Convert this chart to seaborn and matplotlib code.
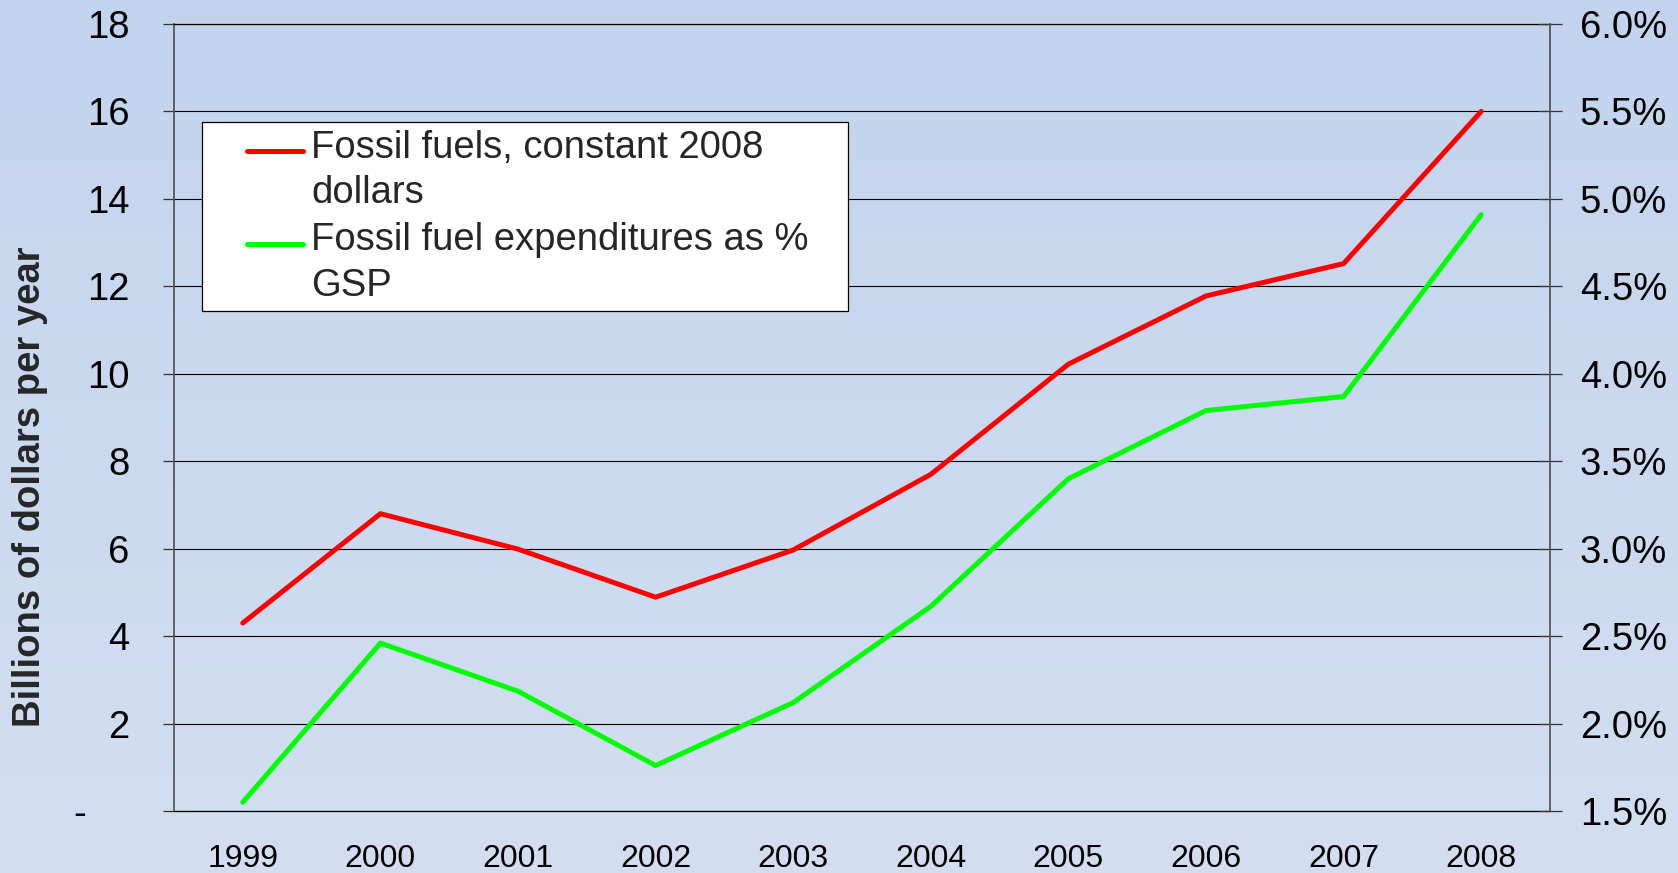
import matplotlib
matplotlib.use("Agg")
import numpy as np
import pandas as pd
import seaborn as sns
import matplotlib.pyplot as plt
from matplotlib.lines import Line2D
from matplotlib.legend_handler import HandlerLine2D
from matplotlib.ticker import FixedLocator

# ---------------- data ----------------
years = [1999, 2000, 2001, 2002, 2003, 2004, 2005, 2006, 2007, 2008]
fossil_fuels_billions = [4.30, 6.80, 5.99, 4.89, 5.97, 7.70, 10.22, 11.78, 12.52, 16.00]
fossil_pct_gsp = [1.55, 2.46, 2.185, 1.76, 2.12, 2.67, 3.40, 3.79, 3.87, 4.91]

left_ticks = [0, 2, 4, 6, 8, 10, 12, 14, 16, 18]
left_tick_labels = ["-    ", "2", "4", "6", "8", "10", "12", "14", "16", "18"]
right_ticks = [1.5, 2.0, 2.5, 3.0, 3.5, 4.0, 4.5, 5.0, 5.5, 6.0]
right_tick_labels = ["1.5%", "2.0%", "2.5%", "3.0%", "3.5%", "4.0%", "4.5%", "5.0%", "5.5%", "6.0%"]
year_labels = [str(y) for y in years]

series_names = ["Fossil fuels, constant 2008\ndollars",
                "Fossil fuel expenditures as %\nGSP"]
series_colors = ["#ff0000", "#00ff00"]
y_label = "Billions of dollars per year"

# ---------------- style ----------------
sns.set_style("white")
plt.rcParams["font.family"] = ["Liberation Sans", "DejaVu Sans"]

W, H = 1678, 873
fig = plt.figure(figsize=(W / 100, H / 100), dpi=100)

# gradient background
bg = fig.add_axes([0, 0, 1, 1], zorder=-10)
t = np.linspace(0, 1, 256)[:, None, None]
top_c = np.array([0.760, 0.833, 0.933])
bot_c = np.array([0.827, 0.872, 0.945])
grad = top_c * (1 - t) + bot_c * t
bg.imshow(grad, aspect="auto", extent=[0, 1, 0, 1])
bg.set_axis_off()

ax = fig.add_axes([174 / W, 1 - 811 / H, 1376 / W, 787 / H])
ax.set_facecolor("none")
ax2 = ax.twinx()

df = pd.DataFrame({"year": years, "billions": fossil_fuels_billions, "pct": fossil_pct_gsp})
sns.lineplot(data=df, x="year", y="billions", ax=ax, color=series_colors[0],
             linewidth=3.6, legend=False, solid_capstyle="round", zorder=3)
sns.lineplot(data=df, x="year", y="pct", ax=ax2, color=series_colors[1],
             linewidth=3.6, legend=False, solid_capstyle="round", zorder=3)

ax.set_xlim(1998.5, 2008.5)
ax.set_ylim(0, 18)
ax2.set_ylim(1.5, 6.0)

# x axis: labels centred, tick marks between categories
ax.set_xticks(years)
ax.set_xticklabels(year_labels, fontsize=23)
ax.xaxis.set_minor_locator(FixedLocator(np.arange(1998.5, 2009.0, 1.0)))
ax.tick_params(axis="x", which="major", length=0, pad=24, labelcolor="black")
ax.tick_params(axis="x", which="minor", length=7, width=1, color="#555555", direction="out")

# left y axis
ax.set_yticks(left_ticks)
ax.set_yticklabels(left_tick_labels, fontsize=27.5)
ax.tick_params(axis="y", length=8, width=0.9, color="#333333", pad=24, direction="out",
               labelcolor="black")
ax.yaxis.grid(True, color="black", linewidth=0.8)
ax.xaxis.grid(False)

# right y axis
ax2.set_yticks(right_ticks)
ax2.set_yticklabels(right_tick_labels, fontsize=27.5)
ax2.tick_params(axis="y", length=17, width=0.9, color="#333333", pad=13, direction="inout",
                labelcolor="black")
ax2.grid(False)

for s in ["top", "bottom"]:
    ax.spines[s].set_color("black")
    ax.spines[s].set_linewidth(0.9)
ax.spines["left"].set_color("#4d4d4d")
ax.spines["left"].set_linewidth(1.2)
ax.spines["right"].set_visible(False)
for s in ["top", "bottom", "left"]:
    ax2.spines[s].set_visible(False)
ax2.spines["right"].set_color("#4d4d4d")
ax2.spines["right"].set_linewidth(1.2)

ax.set_xlabel("")
ax2.set_ylabel("")
ax.set_ylabel(y_label, fontsize=27.5, fontweight="bold", va="center")
ax.yaxis.set_label_coords((30 - 174) / 1376, (811 - 487) / 787)


class UpperLineHandler(HandlerLine2D):
    def create_artists(self, legend, orig_handle, xdescent, ydescent, width, height,
                       fontsize, trans):
        arts = super().create_artists(legend, orig_handle, xdescent, ydescent, width,
                                      height, fontsize, trans)
        for a in arts:
            if isinstance(a, Line2D):
                a.set_ydata(np.asarray(a.get_ydata(), dtype=float) + 0.52 * fontsize)
        return arts


handles = [ax.lines[0], ax2.lines[0]]
x0 = (202 - 174) / 1376
ytop = (811 - 122) / 787
ybot = (811 - 307) / 787
wbox = (848 - 202) / 1376
leg = ax2.legend(handles, series_names, loc="upper left",
                 bbox_to_anchor=(x0, ybot, wbox, ytop - ybot), mode="expand",
                 borderaxespad=0, borderpad=0.2, handlelength=2.44, handletextpad=0.22,
                 labelspacing=0.3, fontsize=27.5, frameon=True, fancybox=False,
                 edgecolor="black", facecolor="white", framealpha=1,
                 handler_map={Line2D: UpperLineHandler(xpad=0.97)})
leg.get_frame().set_linewidth(0.9)
for txt in leg.get_texts():
    txt.set_linespacing(1.33)

fig.savefig("out.png", dpi=100)
